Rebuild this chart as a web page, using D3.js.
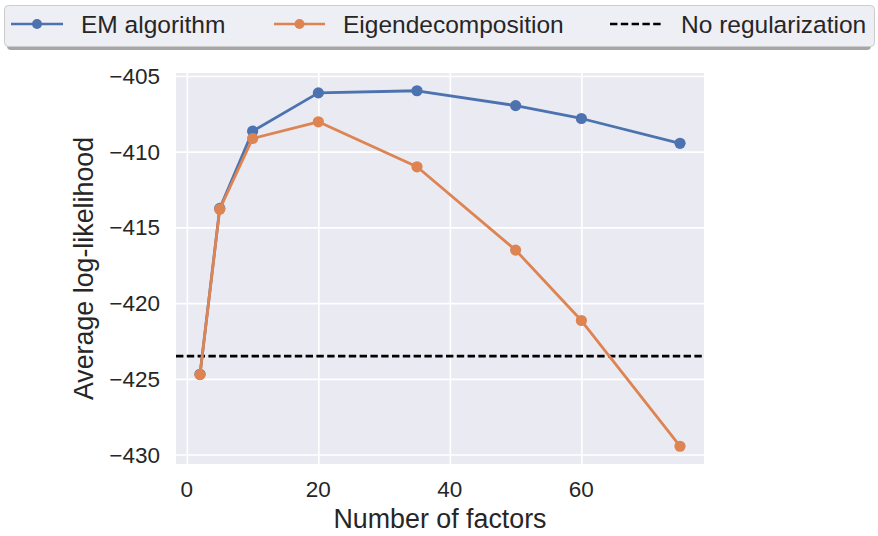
<!DOCTYPE html>
<html>
<head>
<meta charset="utf-8">
<script src="https://cdn.jsdelivr.net/npm/d3@7"></script>
<style>
  body { margin: 0; background: #fff; }
  svg { font-family: "Liberation Sans", Arial, sans-serif; }
</style>
</head>
<body>
<svg id="chart" width="878" height="536"></svg>
<script>
// data
const factors = [2, 5, 10, 20, 35, 50, 60, 75];
const emValues = [-424.7, -413.75, -408.65, -406.12, -405.98, -406.96, -407.81, -409.45];
const eigValues = [-424.72, -413.8, -409.13, -408.03, -411.0, -416.5, -421.15, -429.45];
const noRegValue = -423.5;
const xTicks = [0, 20, 40, 60];
const yTicks = [-430, -425, -420, -415, -410, -405];

const seriesNames = ["EM algorithm", "Eigendecomposition", "No regularization"];
const blue = "#4c72b0";
const orange = "#dd8452";

const svg = d3.select("#chart");
const plot = { left: 176, right: 704, top: 73, bottom: 464 };

// matplotlib style 5% padding
function padded(ext) {
  const m = (ext[1] - ext[0]) * 0.05;
  return [ext[0] - m, ext[1] + m];
}

const x = d3.scaleLinear()
  .domain(padded(d3.extent(factors)))
  .range([plot.left, plot.right]);
const y = d3.scaleLinear()
  .domain(padded(d3.extent(emValues.concat(eigValues))))
  .range([plot.bottom, plot.top]);

const fmt = d => (d < 0 ? "\u2212" + Math.abs(d) : String(d));

// background
svg.append("rect")
  .attr("x", plot.left)
  .attr("y", plot.top)
  .attr("width", plot.right - plot.left)
  .attr("height", plot.bottom - plot.top)
  .attr("fill", "#eaeaf2");

// grid via axes
svg.append("g")
  .attr("transform", `translate(0,${plot.bottom})`)
  .call(d3.axisBottom(x).tickValues(xTicks).tickSize(-(plot.bottom - plot.top)).tickFormat(""))
  .call(g => g.select(".domain").remove())
  .call(g => g.selectAll("line").attr("stroke", "#fff").attr("stroke-width", 1.6));

svg.append("g")
  .attr("transform", `translate(${plot.left},0)`)
  .call(d3.axisLeft(y).tickValues(yTicks).tickSize(-(plot.right - plot.left)).tickFormat(""))
  .call(g => g.select(".domain").remove())
  .call(g => g.selectAll("line").attr("stroke", "#fff").attr("stroke-width", 1.6));

// tick labels
svg.append("g")
  .selectAll("text")
  .data(xTicks)
  .join("text")
  .attr("x", d => x(d))
  .attr("y", 497)
  .attr("text-anchor", "middle")
  .attr("font-size", 22.5)
  .attr("fill", "#262626")
  .text(fmt);

svg.append("g")
  .selectAll("text")
  .data(yTicks)
  .join("text")
  .attr("x", 160)
  .attr("y", d => y(d))
  .attr("dy", "0.36em")
  .attr("text-anchor", "end")
  .attr("font-size", 22.5)
  .attr("fill", "#262626")
  .text(fmt);

// axis titles
svg.append("text")
  .attr("x", (plot.left + plot.right) / 2)
  .attr("y", 528)
  .attr("text-anchor", "middle")
  .attr("font-size", 26.8)
  .attr("fill", "#262626")
  .text("Number of factors");

svg.append("text")
  .attr("transform", `translate(93,${(plot.top + plot.bottom) / 2}) rotate(-90)`)
  .attr("text-anchor", "middle")
  .attr("font-size", 26.8)
  .attr("fill", "#262626")
  .text("Average log-likelihood");

// no regularization line
svg.append("line")
  .attr("x1", plot.left)
  .attr("x2", plot.right)
  .attr("y1", y(noRegValue))
  .attr("y2", y(noRegValue))
  .attr("stroke", "#000")
  .attr("stroke-width", 2.6)
  .attr("stroke-dasharray", "7.4,3.4");

const line = d3.line().x(d => x(d[0])).y(d => y(d[1]));

function drawSeries(vals, color) {
  const pts = factors.map((f, i) => [f, vals[i]]);
  svg.append("path")
    .datum(pts)
    .attr("d", line)
    .attr("fill", "none")
    .attr("stroke", color)
    .attr("stroke-width", 2.8)
    .attr("stroke-linejoin", "round");
  svg.append("g")
    .selectAll("circle")
    .data(pts)
    .join("circle")
    .attr("cx", d => x(d[0]))
    .attr("cy", d => y(d[1]))
    .attr("r", 5.6)
    .attr("fill", color);
}

drawSeries(emValues, blue);
drawSeries(eigValues, orange);

// legend
const legend = svg.append("g");
legend.append("rect")
  .attr("x", 7).attr("y", 8)
  .attr("width", 871 - 7).attr("height", 42)
  .attr("rx", 4)
  .attr("fill", "#000").attr("opacity", 0.35);
legend.append("rect")
  .attr("x", 4.5).attr("y", 5.5)
  .attr("width", 870).attr("height", 41)
  .attr("rx", 4)
  .attr("fill", "#eeeef5")
  .attr("stroke", "#cccccc")
  .attr("stroke-width", 1);

const handles = [
  { x0: 11, x1: 63, color: blue, dash: null, marker: true },
  { x0: 274, x1: 325, color: orange, dash: null, marker: true },
  { x0: 610, x1: 663, color: "#000", dash: "7.4,3.4", marker: false }
];
const legendY = 24;

handles.forEach((h, i) => {
  legend.append("line")
    .attr("x1", h.x0).attr("x2", h.x1)
    .attr("y1", legendY).attr("y2", legendY)
    .attr("stroke", h.color)
    .attr("stroke-width", 2.6)
    .attr("stroke-dasharray", h.dash);
  if (h.marker) {
    legend.append("circle")
      .attr("cx", (h.x0 + h.x1) / 2)
      .attr("cy", legendY)
      .attr("r", 5)
      .attr("fill", h.color);
  }
  legend.append("text")
    .attr("x", h.x1 + 18)
    .attr("y", 32.5)
    .attr("font-size", 24.5)
    .attr("fill", "#262626")
    .text(seriesNames[i]);
});
</script>
</body>
</html>
